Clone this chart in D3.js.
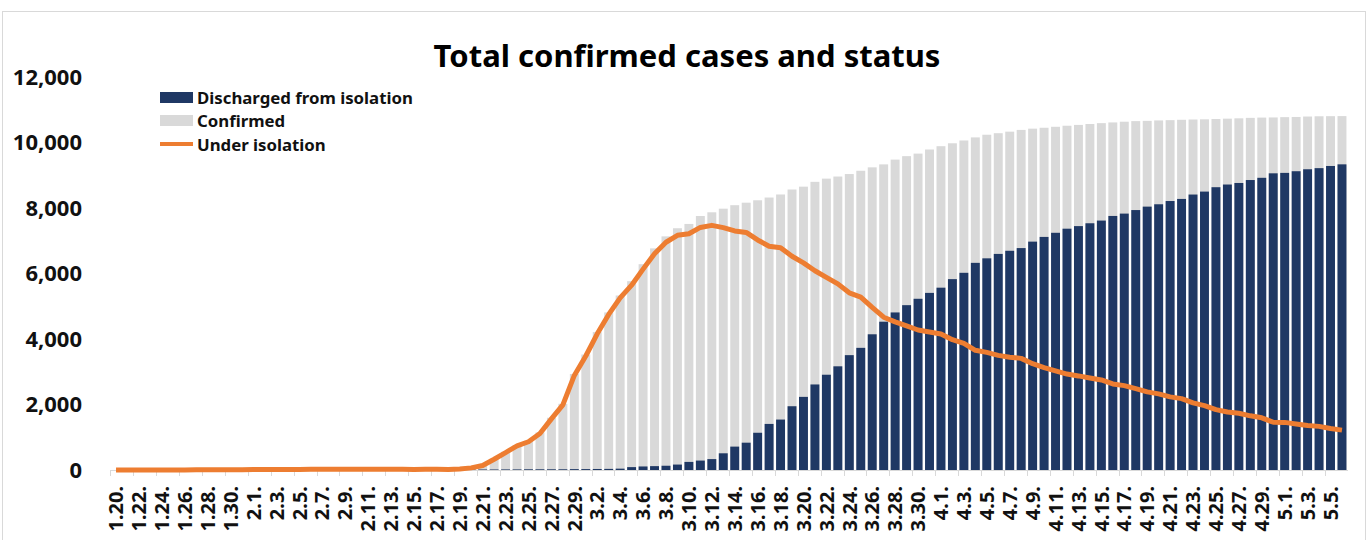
<!DOCTYPE html>
<html>
<head>
<meta charset="utf-8">
<title>Total confirmed cases and status</title>
<script src="https://d3js.org/d3.v7.min.js"></script>
<style>
    body { margin: 0; background: #fff; }
    text { font-family: "Noto Sans", "DejaVu Sans", sans-serif; }
</style>
</head>
<body>
<svg width="1369" height="540"></svg>
<script>
// dates 1.20 .. 5.6 (one bar per day)
var days = ["1.20","1.21","1.22","1.23","1.24","1.25","1.26","1.27","1.28","1.29","1.30","1.31",
    "2.1","2.2","2.3","2.4","2.5","2.6","2.7","2.8","2.9","2.10","2.11","2.12","2.13","2.14","2.15",
    "2.16","2.17","2.18","2.19","2.20","2.21","2.22","2.23","2.24","2.25","2.26","2.27","2.28","2.29",
    "3.1","3.2","3.3","3.4","3.5","3.6","3.7","3.8","3.9","3.10","3.11","3.12","3.13","3.14","3.15",
    "3.16","3.17","3.18","3.19","3.20","3.21","3.22","3.23","3.24","3.25","3.26","3.27","3.28","3.29",
    "3.30","3.31","4.1","4.2","4.3","4.4","4.5","4.6","4.7","4.8","4.9","4.10","4.11","4.12","4.13",
    "4.14","4.15","4.16","4.17","4.18","4.19","4.20","4.21","4.22","4.23","4.24","4.25","4.26","4.27",
    "4.28","4.29","4.30","5.1","5.2","5.3","5.4","5.5","5.6"];

var confirmed = [1,1,1,1,2,2,3,4,4,4,6,11,
    12,15,15,16,18,23,24,24,25,27,28,28,28,28,28,
    29,30,31,46,82,156,346,556,763,893,1146,1595,2022,2931,
    3526,4212,4812,5328,5766,6284,6767,7134,7382,7513,7755,7869,7979,8086,8162,
    8236,8320,8413,8565,8652,8799,8897,8961,9037,9137,9241,9332,9478,9583,
    9661,9786,9887,9976,10062,10156,10237,10284,10331,10384,10423,10450,10480,10512,10537,
    10564,10591,10613,10635,10653,10661,10674,10683,10694,10702,10708,10718,10728,10738,
    10752,10761,10765,10774,10780,10793,10801,10804,10806];

var discharged = [0,0,0,0,0,0,0,0,0,0,0,0,
    0,0,0,0,1,1,2,2,3,3,4,7,7,7,9,
    9,10,12,12,16,16,16,18,18,22,22,22,22,27,
    28,31,34,41,88,108,118,130,166,247,288,333,510,714,834,
    1137,1407,1540,1947,2233,2612,2909,3166,3507,3730,4144,4528,4811,5033,
    5228,5408,5567,5828,6021,6325,6463,6598,6694,6776,6973,7117,7243,7368,7447,
    7534,7616,7757,7829,7937,8042,8114,8213,8277,8411,8501,8635,8717,8764,
    8854,8922,9059,9072,9123,9183,9217,9283,9333];

var underIsolation = [1,1,1,1,2,2,3,4,4,4,6,11,
    12,15,15,16,17,22,22,22,22,24,24,21,21,21,19,
    20,20,19,34,65,139,328,533,738,863,1113,1561,1987,2888,
    3481,4159,4750,5255,5643,6134,6605,6954,7165,7212,7407,7470,7402,7300,7253,
    7024,6832,6789,6527,6325,6085,5884,5684,5410,5281,4966,4665,4523,4398,
    4275,4216,4155,3979,3867,3654,3591,3500,3445,3408,3246,3125,3026,2930,2873,
    2808,2750,2627,2576,2484,2385,2324,2233,2179,2051,1967,1843,1769,1731,
    1654,1593,1459,1454,1407,1360,1332,1267,1218];

var yTicks = [0, 2000, 4000, 6000, 8000, 10000, 12000];

var svg = d3.select("svg");

// chart frame
svg.append("rect")
    .attr("x", 2.5).attr("y", 11.5)
    .attr("width", 1363).attr("height", 540)
    .attr("fill", "none")
    .attr("stroke", "#d9d9d9");

var xs = d3.scaleBand().domain(days).range([110.3, 1347.7]).paddingInner(0.22).paddingOuter(0.11);
var ys = d3.scaleLinear().domain([0, 12000]).range([470, 77]);

svg.append("text")
    .attr("x", 687).attr("y", 67)
    .attr("text-anchor", "middle")
    .style("font-size", "31px")
    .style("font-weight", "bold")
    .style("fill", "#000")
    .text("Total confirmed cases and status");

// y labels (no axis line)
svg.append("g")
    .selectAll("text")
    .data(yTicks)
    .enter()
    .append("text")
        .attr("x", 82)
        .attr("y", function(d){ return ys(d); })
        .attr("dy", "0.35em")
        .attr("text-anchor", "end")
        .style("font-size", "22px")
        .style("font-weight", "bold")
        .style("fill", "#111")
        .text(function(d){ return d3.format(",")(d); });

// bars: confirmed behind, discharged in front
svg.append("g")
    .selectAll("rect")
    .data(days)
    .enter()
    .append("rect")
        .attr("x", function(d){ return xs(d); })
        .attr("width", xs.bandwidth())
        .attr("y", function(d, i){ return ys(confirmed[i]); })
        .attr("height", function(d, i){ return ys(0) - ys(confirmed[i]); })
        .attr("fill", "#d9d9d9");

svg.append("g")
    .selectAll("rect")
    .data(days)
    .enter()
    .append("rect")
        .attr("x", function(d){ return xs(d); })
        .attr("width", xs.bandwidth())
        .attr("y", function(d, i){ return ys(discharged[i]); })
        .attr("height", function(d, i){ return ys(0) - ys(discharged[i]); })
        .attr("fill", "#1f3864");

// x axis: light line, tick every 2 days, label every 2 days
var step = xs.step();
var xAxis = svg.append("g");
xAxis.append("line")
    .attr("x1", 110).attr("x2", 1348)
    .attr("y1", 470.5).attr("y2", 470.5)
    .attr("stroke", "#d9d9d9");

var labelled = days.filter(function(d, i){ return i % 2 == 0; });
xAxis.selectAll("line.tick")
    .data(labelled)
    .enter()
    .append("line")
        .attr("class", "tick")
        .attr("x1", function(d){ return Math.round(xs(d) + xs.bandwidth() / 2 - step / 2) + 0.5; })
        .attr("x2", function(d){ return Math.round(xs(d) + xs.bandwidth() / 2 - step / 2) + 0.5; })
        .attr("y1", 470).attr("y2", 476)
        .attr("stroke", "#d9d9d9");

xAxis.selectAll("text")
    .data(labelled)
    .enter()
    .append("text")
        .attr("transform", function(d){
            return "translate(" + (xs(d) + xs.bandwidth() / 2) + ",486) rotate(-90)";
        })
        .attr("dy", "0.36em")
        .attr("text-anchor", "end")
        .style("font-size", "20px")
        .style("font-weight", "bold")
        .style("fill", "#111")
        .text(function(d){ return d + "."; });

// under isolation line
svg.append("path")
    .datum(underIsolation)
    .attr("fill", "none")
    .attr("stroke", "#ed7d31")
    .attr("stroke-width", 5)
    .attr("stroke-linejoin", "round")
    .attr("d", d3.line()
        .x(function(d, i){ return xs(days[i]) + xs.bandwidth() / 2; })
        .y(function(d){ return ys(d); }));

// legend
var legend = svg.append("g").attr("transform", "translate(160,0)");
legend.append("rect").attr("x", 0).attr("y", 92).attr("width", 33).attr("height", 11).attr("fill", "#1f3864");
legend.append("rect").attr("x", 0).attr("y", 115).attr("width", 33).attr("height", 11).attr("fill", "#d9d9d9");
legend.append("line").attr("x1", 0).attr("x2", 33).attr("y1", 144).attr("y2", 144)
    .attr("stroke", "#ed7d31").attr("stroke-width", 4);
var legendNames = ["Discharged from isolation", "Confirmed", "Under isolation"];
legend.selectAll("text")
    .data(legendNames)
    .enter()
    .append("text")
        .attr("x", 37)
        .attr("y", function(d, i){ return 98 + i * 23.5; })
        .attr("dy", "0.35em")
        .style("font-size", "16.8px")
        .style("font-weight", "bold")
        .style("fill", "#111")
        .text(function(d){ return d; });
</script>
</body>
</html>
